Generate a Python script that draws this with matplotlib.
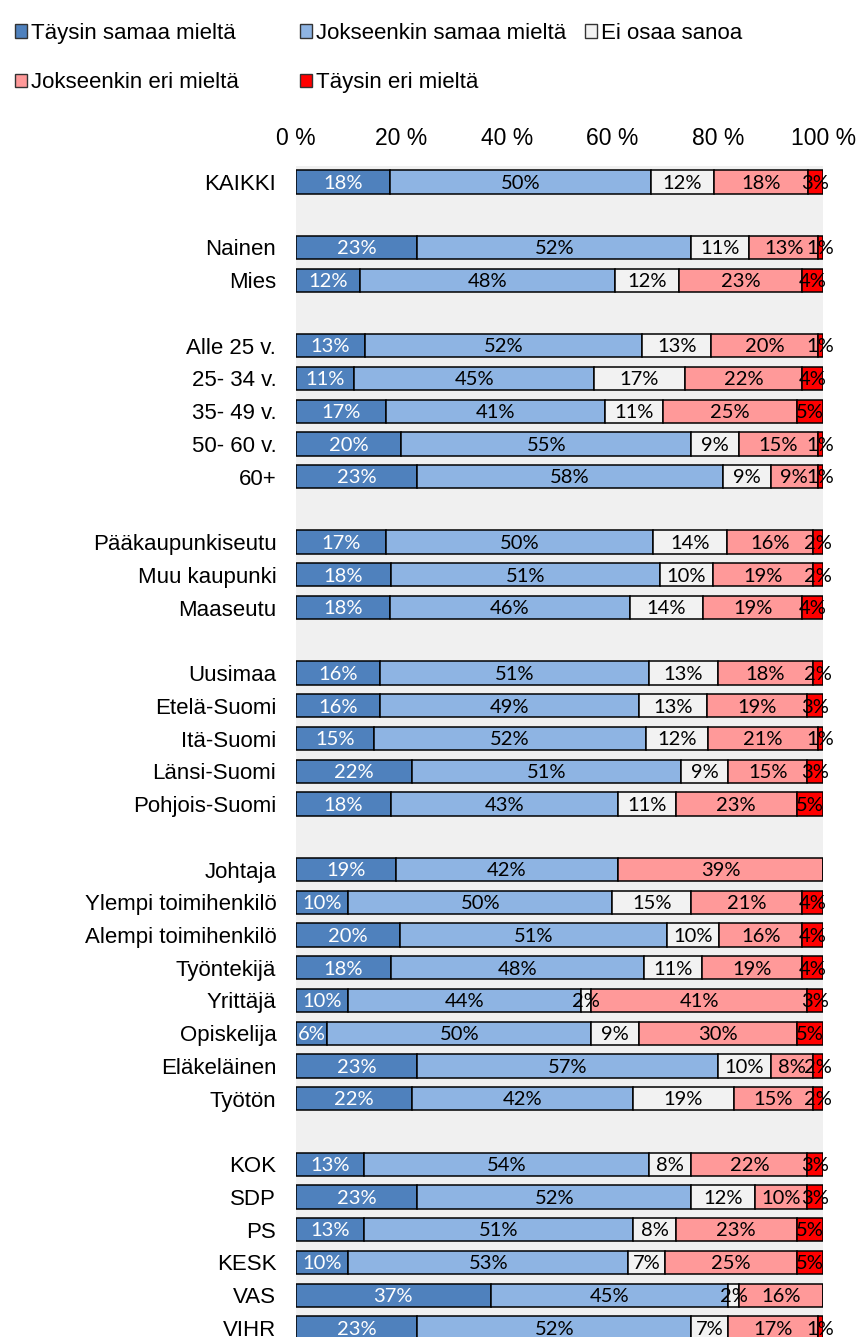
import numpy as np
import matplotlib
matplotlib.use('Agg')
import matplotlib.pyplot as plt
from matplotlib.patches import Patch

plt.rcParams['font.family'] = ['Liberation Sans', 'DejaVu Sans']

# rivit (tyhjä = väli ryhmien välissä)
kategoriat = ['KAIKKI', '',
              'Nainen', 'Mies', '',
              'Alle 25 v.', '25- 34 v.', '35- 49 v.', '50- 60 v.', '60+', '',
              'Pääkaupunkiseutu', 'Muu kaupunki', 'Maaseutu', '',
              'Uusimaa', 'Etelä-Suomi', 'Itä-Suomi', 'Länsi-Suomi', 'Pohjois-Suomi', '',
              'Johtaja', 'Ylempi toimihenkilö', 'Alempi toimihenkilö', 'Työntekijä',
              'Yrittäjä', 'Opiskelija', 'Eläkeläinen', 'Työtön', '',
              'KOK', 'SDP', 'PS', 'KESK', 'VAS', 'VIHR']

taysin_samaa = [18, None, 23, 12, None, 13, 11, 17, 20, 23, None, 17, 18, 18, None,
                16, 16, 15, 22, 18, None, 19, 10, 20, 18, 10, 6, 23, 22, None,
                13, 23, 13, 10, 37, 23]
jokseenkin_samaa = [50, None, 52, 48, None, 52, 45, 41, 55, 58, None, 50, 51, 46, None,
                    51, 49, 52, 51, 43, None, 42, 50, 51, 48, 44, 50, 57, 42, None,
                    54, 52, 51, 53, 45, 52]
ei_osaa = [12, None, 11, 12, None, 13, 17, 11, 9, 9, None, 14, 10, 14, None,
           13, 13, 12, 9, 11, None, 0, 15, 10, 11, 2, 9, 10, 19, None,
           8, 12, 8, 7, 2, 7]
jokseenkin_eri = [18, None, 13, 23, None, 20, 22, 25, 15, 9, None, 16, 19, 19, None,
                  18, 19, 21, 15, 23, None, 39, 21, 16, 19, 41, 30, 8, 15, None,
                  22, 10, 23, 25, 16, 17]
taysin_eri = [3, None, 1, 4, None, 1, 4, 5, 1, 1, None, 2, 2, 4, None,
              2, 3, 1, 3, 5, None, 0, 4, 4, 4, 3, 5, 2, 2, None,
              3, 3, 5, 5, 0, 1]

sarjat = ['Täysin samaa mieltä', 'Jokseenkin samaa mieltä', 'Ei osaa sanoa',
          'Jokseenkin eri mieltä', 'Täysin eri mieltä']
varit = ['#4F81BD', '#8EB4E3', '#F2F2F2', '#FF9999', '#FF0000']

arvot = np.array([taysin_samaa, jokseenkin_samaa, ei_osaa, jokseenkin_eri, taysin_eri],
                 dtype=float)
rivi = np.arange(len(kategoriat))
mukana = ~np.isnan(arvot[0])
# 100 % pinottu: skaalataan joka rivi summaan 100
osuus = np.where(mukana, arvot / np.nansum(arvot, axis=0) * 100, 0)

W, H = 858, 1337
fig = plt.figure(figsize=(W / 100, H / 100), dpi=100)

# akselin paikka pikseleinä
x0, x1 = 295.7, 823.3
y_top = 165.6
pitch = 32.74
ymin, ymax = -0.5, 37.0
ax_h = (ymax - ymin) * pitch
ax = fig.add_axes([x0 / W, 1 - (y_top + ax_h) / H, (x1 - x0) / W, ax_h / H])
ax.set_facecolor('#F0F0F0')

vasen = np.zeros(len(kategoriat))
kahvat = []
for i, (nimi, vari) in enumerate(zip(sarjat, varit)):
    ax.barh(rivi[mukana], osuus[i][mukana], left=vasen[mukana], height=0.71,
            color=vari, edgecolor='black', linewidth=1.1)
    for r in rivi[mukana]:
        v = arvot[i][r]
        if v > 0:
            ax.text(vasen[r] + osuus[i][r] / 2, r + 0.04, f'{int(v)}%',
                    ha='center', va='center', fontsize=14.5, family=['Lato', 'DejaVu Sans'],
                    color='white' if i == 0 else 'black')
    vasen += osuus[i]
    kahvat.append(Patch(facecolor=vari, edgecolor='#333333', linewidth=1.0, label=nimi))

ax.set_xlim(0, 100)
ax.set_ylim(ymax, ymin)
ax.xaxis.tick_top()
ax.set_xticks([0, 20, 40, 60, 80, 100])
ax.set_xticklabels([f'{t} %' for t in [0, 20, 40, 60, 80, 100]], fontsize=16.5)
ax.set_yticks(rivi)
ax.set_yticklabels(kategoriat, fontsize=16)
ax.tick_params(axis='x', length=0, pad=11)
ax.tick_params(axis='y', length=0, pad=14)
for s in ax.spines.values():
    s.set_visible(False)

# selite kolmessa sarakkeessa kuten Excelissä
sarakkeet = [[0, 3], [1, 4], [2]]
sarake_x = [15, 300, 585]
for idx, sx in zip(sarakkeet, sarake_x):
    fig.legend(handles=[kahvat[k] for k in idx], loc='upper left',
               bbox_to_anchor=(sx / W, 1 - 23 / H), frameon=False, fontsize=16,
               borderpad=0, borderaxespad=0, handlelength=0.55, handleheight=0.55,
               handletextpad=0.15, labelspacing=1.28)

fig.savefig('out.png', dpi=100)
